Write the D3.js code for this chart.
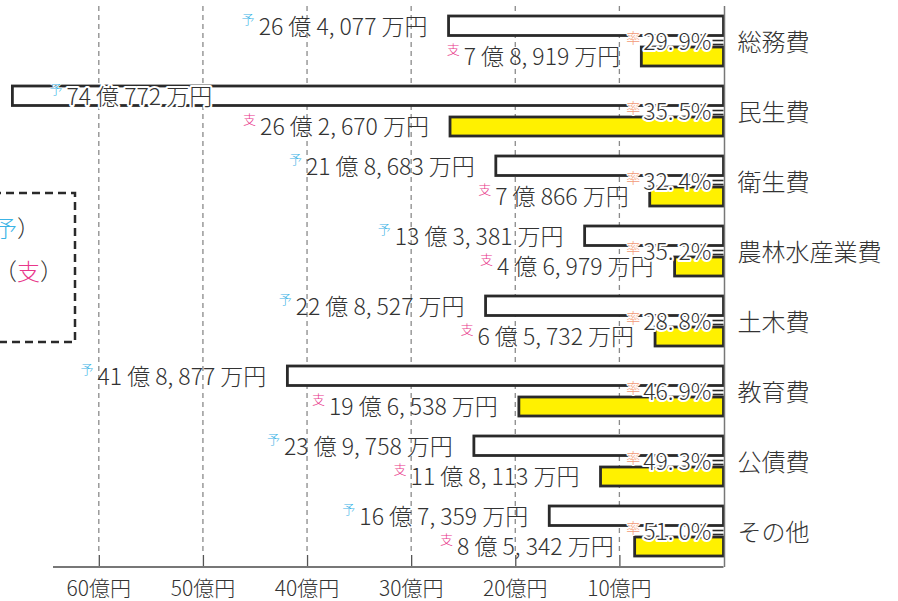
<!DOCTYPE html>
<html><head><meta charset="utf-8">
<script src="https://cdn.jsdelivr.net/npm/d3@7"></script>
<style>
html,body{margin:0;padding:0;background:#fff;}
svg{display:block;font-family:"Noto Sans CJK JP","Noto Sans",sans-serif;font-weight:300;}
</style></head>
<body>
<svg id="chart" width="898" height="601"></svg>
<script>
// ---- data (万円) ----
const categories = ["総務費","民生費","衛生費","農林水産業費","土木費","教育費","公債費","その他"];
const budget = [264077, 740772, 218683, 133381, 228527, 418877, 239758, 167359]; // 予算（予）
const spent  = [78919, 262670, 70866, 46979, 65732, 196538, 118113, 85342];      // 支出（支）
const rate   = [29.9, 35.5, 32.4, 35.2, 28.8, 46.9, 49.3, 51.0];                  // 執行率（率）
const xTicks = [60, 50, 40, 30, 20, 10];
const tickLabels = ["60億円","50億円","40億円","30億円","20億円","10億円"];
const legendLines = [["予算額（","予","）"], ["支出済額（","支","）"]];
const BAR_CAP = 68.3; // 億円: bars longer than this are cut at the chart edge

const C = {text:"#333", yo:"#3cb4e6", shi:"#e8388a", ritsu:"#f29a76", yellow:"#fff100", edge:"#2a2a2a", grid:"#8a8a8a", axis:"#777"};

const svg = d3.select("#chart");
const x = d3.scaleLinear().domain([0, 64.4]).range([723.5, 53]);
const y = d3.scaleBand().domain(categories).range([7, 567]);
const toOku = v => v / 10000;

function fmt(v){
  const oku = Math.floor(v / 10000), man = v % 10000;
  return oku + " 億 " + d3.format(",")(man).replace(",", ", ") + " 万円";
}

// gridlines
const g = svg.append("g");
g.selectAll("line.grid").data(xTicks).join("line")
  .attr("x1", d => x(d)).attr("x2", d => x(d))
  .attr("y1", 6).attr("y2", 555)
  .attr("stroke", C.grid).attr("stroke-width", 1.3).attr("stroke-dasharray", "5,4");

// axes
const ax = svg.append("g").attr("transform", `translate(0,${567})`);
ax.call(d3.axisTop(x).tickValues(xTicks).tickSize(12).tickFormat(""));
ax.select(".domain").remove();
ax.selectAll(".tick line").attr("stroke", "#555").attr("stroke-width", 1.3);
svg.append("line").attr("x1", 53).attr("x2", x(0)).attr("y1", 567).attr("y2", 567)
  .attr("stroke", C.axis).attr("stroke-width", 2);
svg.append("g").selectAll("text").data(xTicks).join("text")
  .attr("x", d => x(d)).attr("y", 596).attr("text-anchor", "middle")
  .attr("font-size", 21).attr("fill", C.text)
  .text((d,i) => tickLabels[i]);

// bars
const rows = categories.map((c,i) => ({c, b: budget[i], s: spent[i], r: rate[i]}));
const bars = svg.append("g");
bars.selectAll("rect.b").data(rows).join("rect")
  .attr("x", d => x(Math.min(toOku(d.b), BAR_CAP)))
  .attr("width", d => x(0) - x(Math.min(toOku(d.b), BAR_CAP)))
  .attr("y", d => y(d.c) + 9).attr("height", 19.5)
  .attr("fill", "#fff").attr("stroke", C.edge).attr("stroke-width", 2.8);
bars.selectAll("rect.s").data(rows).join("rect")
  .attr("x", d => x(toOku(d.s)))
  .attr("width", d => x(0) - x(toOku(d.s)))
  .attr("y", d => y(d.c) + 40).attr("height", 19)
  .attr("fill", C.yellow).attr("stroke", C.edge).attr("stroke-width", 2.8);
// small double marks at axis
rows.forEach(d => {
  [33.5, 37.5].forEach(o => bars.append("line")
    .attr("x1", x(0) - 11).attr("x2", x(0)).attr("y1", y(d.c) + o).attr("y2", y(d.c) + o)
    .attr("stroke", C.edge).attr("stroke-width", 1.6));
});

// value labels
const labels = svg.append("g").attr("font-size", 23).attr("fill", C.text);
function valueLabel(d, v, mark, color, baseOff){
  const capped = toOku(v) > BAR_CAP;
  const t = labels.append("text")
    .attr("y", y(d.c) + baseOff);
  if (capped) {
    t.attr("x", x(BAR_CAP) + 37).attr("text-anchor", "start")
     .attr("stroke", "#fff").attr("stroke-width", 4).attr("paint-order", "stroke").attr("stroke-linejoin", "round");
  } else {
    t.attr("x", x(toOku(v)) - 21).attr("text-anchor", "end");
  }
  t.append("tspan").attr("font-size", 13).attr("fill", color).attr("stroke-width", 1.5).attr("dy", -11).text(mark);
  t.append("tspan").attr("dx", 4).attr("dy", 11).text(fmt(v));
}
rows.forEach(d => {
  valueLabel(d, d.b, "予", C.yo, 27.5);
  valueLabel(d, d.s, "支", C.shi, 57.5);
});

// rate labels
const rl = svg.append("g");
rows.forEach(d => {
  const t = rl.append("text").attr("x", x(0) - 12).attr("y", y(d.c) + 43)
    .attr("text-anchor", "end").attr("fill", C.text)
    .attr("stroke", "#fff").attr("stroke-width", 4).attr("paint-order", "stroke").attr("stroke-linejoin", "round");
  const parts = d3.format(".1f")(d.r).split(".");
  t.append("tspan").attr("font-size", 14).attr("fill", C.ritsu).attr("stroke-width", 2).attr("dy", -7).text("率");
  t.append("tspan").attr("font-size", 23).attr("dx", 3).attr("dy", 7).text(parts[0] + ".");
  t.append("tspan").attr("font-size", 23).attr("dx", 5).text(parts[1] + "%");
});

// axis vertical line
svg.append("line").attr("x1", x(0) + 1).attr("x2", x(0) + 1).attr("y1", 6).attr("y2", 567)
  .attr("stroke", C.axis).attr("stroke-width", 1.5);

// category labels
svg.append("g").selectAll("text").data(categories).join("text")
  .attr("x", x(0) + 14).attr("y", d => y(d) + y.bandwidth()/2 + 8.5)
  .attr("font-size", 24).attr("fill", C.text).text(d => d);

// legend (partly outside the view)
svg.append("rect").attr("x", -20).attr("y", 193).attr("width", 95).attr("height", 149)
  .attr("fill", "none").attr("stroke", C.edge).attr("stroke-width", 2.5).attr("stroke-dasharray", "8,5");
const lg = svg.append("g").attr("font-size", 23).attr("fill", C.text);
[[40, 237], [63, 280]].forEach((p, i) => {
  const t = lg.append("text").attr("x", p[0]).attr("y", p[1]).attr("text-anchor", "end");
  t.append("tspan").text(legendLines[i][0]);
  t.append("tspan").attr("fill", i === 0 ? C.yo : C.shi).text(legendLines[i][1]);
  t.append("tspan").text(legendLines[i][2]);
});
</script>
</body></html>
